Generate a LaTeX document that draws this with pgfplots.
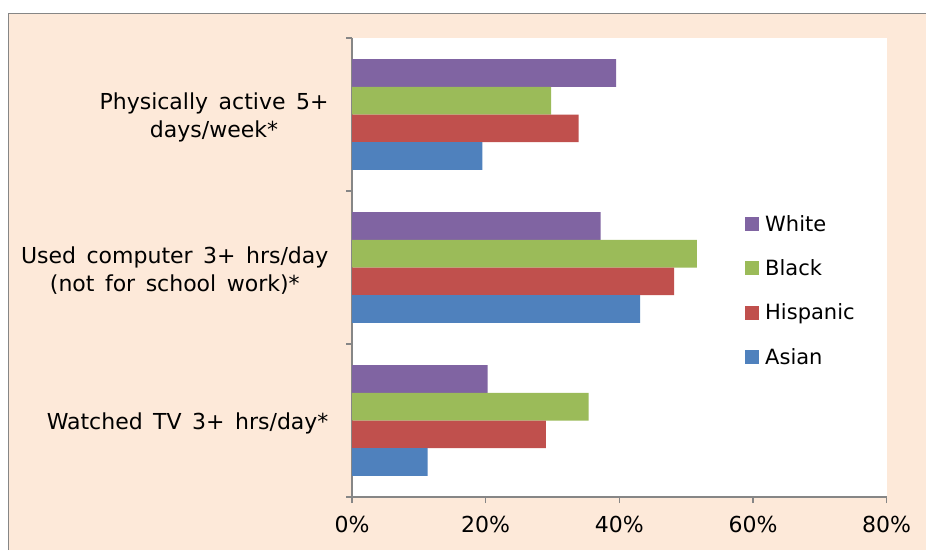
\documentclass[border=0pt]{standalone}
\usepackage{fontspec}
\setmainfont{DejaVu Sans}
\newfontfamily\lblfam{DejaVu Sans}[WordSpace=1.5]
\usepackage{pgfplots}
\pgfplotsset{compat=1.18}
\definecolor{peach}{HTML}{FDE9D9}
\definecolor{cWhite}{HTML}{8064A2}
\definecolor{cBlack}{HTML}{9BBB59}
\definecolor{cHisp}{HTML}{C0504D}
\definecolor{cAsian}{HTML}{4F81BD}
\definecolor{axgray}{HTML}{868686}
\newcommand\lblfont{\lblfam\fontsize{22}{28.5}\selectfont}
\newcommand\tickfont{\fontsize{22}{28}\selectfont}
\newcommand\legfont{\fontsize{21}{26}\selectfont}
\begin{document}
\begin{tikzpicture}
\useasboundingbox (0,0) rectangle (926pt,-550pt);
\fill[white] (0,0) rectangle (926pt,-550pt);
\fill[peach] (8pt,-13pt) rectangle (926pt,-550pt);
\draw[axgray, line width=1pt] (8pt,-550pt) -- (8pt,-13pt) -- (926pt,-13pt);
\begin{axis}[
  at={(352pt,-497pt)}, anchor=south west,
  scale only axis, width=534.7pt, height=459pt,
  xmin=0, xmax=80, ymin=0, ymax=3,
  axis background/.style={fill=white},
  axis x line*=bottom, axis y line*=left,
  axis line style={axgray, line width=1.2pt},
  xbar, bar width=27.7pt,
  xtick={0,20,40,60,80},
  xticklabel={\pgfmathprintnumber{\tick}\%},
  /pgf/number format/assume math mode=true,
  ytick={0.5,1.5,2.5},
  yticklabels={{Watched TV 3+ hrs/day*},{Used computer 3+ hrs/day\\(not for school work)*},{Physically active 5+\\days/week*}},
  minor ytick={0,1,2,3},
  tick align=outside,
  major tick length=6pt, minor tick length=6pt,
  major x tick style={draw=axgray, line width=1.2pt},
  major y tick style={draw=none},
  minor y tick style={draw=axgray, line width=1.2pt},
  xticklabel style={font=\tickfont, yshift=-10pt},
  yticklabel style={font=\lblfont, align=center, xshift=-14pt, yshift=-3pt},
  legend style={at={(0.735,0.619)}, anchor=north west, draw=none, fill=none,
    font=\legfont, row sep=23pt, inner sep=0pt,
    /tikz/every odd column/.append style={column sep=4pt}},
  legend cell align=left,
  legend image code/.code={\fill[#1,draw=none] (0pt,-7pt) rectangle (14pt,7pt);},
]
\addplot[fill=cWhite, draw=none, bar shift=41.55pt] coordinates {(39.5,2.5) (37.2,1.5) (20.3,0.5)};
\addplot[fill=cBlack, draw=none, bar shift=13.85pt] coordinates {(29.8,2.5) (51.6,1.5) (35.4,0.5)};
\addplot[fill=cHisp, draw=none, bar shift=-13.85pt] coordinates {(33.9,2.5) (48.2,1.5) (29.0,0.5)};
\addplot[fill=cAsian, draw=none, bar shift=-41.55pt] coordinates {(19.5,2.5) (43.1,1.5) (11.3,0.5)};
\legend{White,Black,Hispanic,Asian}
\end{axis}
\end{tikzpicture}
\end{document}
